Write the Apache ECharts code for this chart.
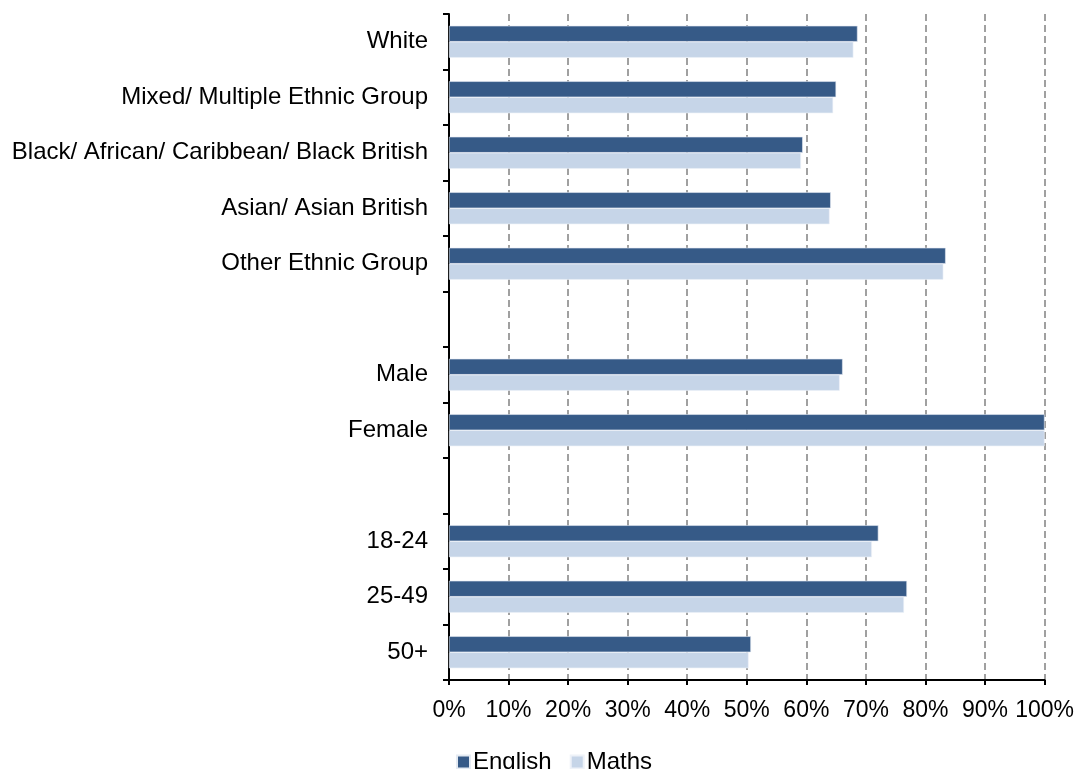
<!DOCTYPE html>
<html>
<head>
<meta charset="utf-8">
<script src="https://cdn.jsdelivr.net/npm/echarts@6/dist/echarts.min.js"></script>
<style>
  html, body { margin: 0; padding: 0; background: #fff; }
  #main { width: 1077px; height: 769px; }
</style>
</head>
<body>
<div id="main"></div>
<script>
// categories, top to bottom (blank rows are spacers between groups)
var categories = [
  'White',
  'Mixed/ Multiple Ethnic Group',
  'Black/ African/ Caribbean/ Black British',
  'Asian/ Asian British',
  'Other Ethnic Group',
  '',
  'Male',
  'Female',
  ' ',
  '18-24',
  '25-49',
  '50+'
]
// percentages
var english = [68.6, 65.0, 59.4, 64.1, 83.4, null, 66.1, 100, null, 72.1, 76.9, 50.7]
var maths = [67.9, 64.5, 59.1, 63.9, 83.0, null, 65.6, 100, null, 71.0, 76.4, 50.3]
var xTicks = [0, 10, 20, 30, 40, 50, 60, 70, 80, 90, 100]

var myChart = echarts.init(document.getElementById('main'))
var font = 'Liberation Sans, Arial, sans-serif'

var option = {
  animation: false,
  backgroundColor: '#fff',
  textStyle: { fontFamily: font },
  grid: { left: 449, right: 32, top: 14, bottom: 89, containLabel: false },
  legend: {
    data: ['English', 'Maths'],
    left: 451,
    top: 745,
    icon: 'rect',
    itemWidth: 13,
    itemHeight: 13,
    itemGap: 18,
    textStyle: { fontSize: 24, color: '#000', fontFamily: font, padding: [0, 0, 0, -2] }
  },
  xAxis: {
    type: 'value',
    min: xTicks[0],
    max: xTicks[xTicks.length - 1],
    interval: 10,
    axisLine: { show: true, lineStyle: { color: '#000', width: 2 } },
    axisTick: { show: true, length: 5, lineStyle: { color: '#000', width: 2 } },
    axisLabel: {
      formatter: '{value}%',
      fontSize: 23,
      color: '#000',
      margin: 19,
      fontFamily: font
    },
    splitLine: {
      show: true,
      lineStyle: { color: '#a0a0a0', type: [7, 4], width: 2 }
    }
  },
  yAxis: {
    type: 'category',
    data: categories,
    inverse: true,
    axisLine: { show: true, lineStyle: { color: '#000', width: 2 } },
    axisTick: { show: true, length: 6, lineStyle: { color: '#000', width: 2 } },
    axisLabel: { fontSize: 24, color: '#000', margin: 21, fontFamily: font, interval: 0 },
    splitLine: { show: false }
  },
  series: [
    {
      name: 'English',
      type: 'bar',
      data: english,
      barWidth: 16,
      barGap: '0%',
      itemStyle: { color: '#365a87', borderColor: '#e4eaf2', borderWidth: 0.6 }
    },
    {
      name: 'Maths',
      type: 'bar',
      data: maths,
      barWidth: 16,
      itemStyle: { color: '#c6d5e8', borderColor: '#eef2f8', borderWidth: 0.6 }
    }
  ]
}

myChart.setOption(option)
</script>
</body>
</html>
